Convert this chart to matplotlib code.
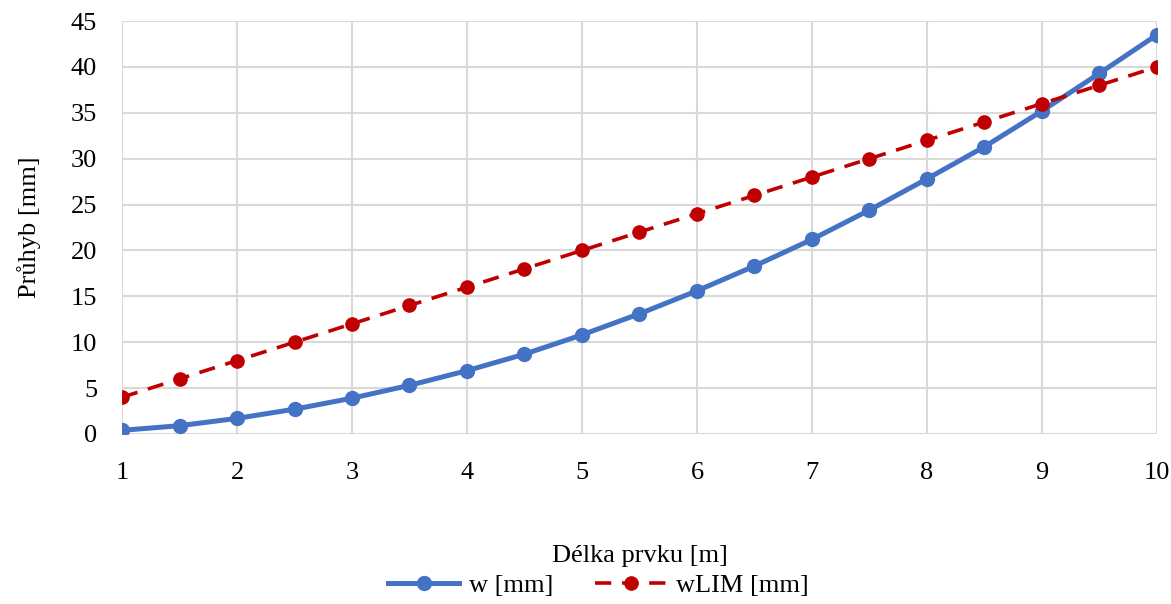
import matplotlib.pyplot as plt
from matplotlib.ticker import MultipleLocator

# delka prvku [m]
delka = [1, 1.5, 2, 2.5, 3, 3.5, 4, 4.5, 5, 5.5, 6, 6.5, 7, 7.5, 8, 8.5, 9, 9.5, 10]
# pruhyb w [mm]
w = [0.4, 0.9, 1.7, 2.7, 3.9, 5.3, 6.9, 8.7, 10.8, 13.1, 15.6, 18.3, 21.2, 24.4, 27.8, 31.3, 35.2, 39.3, 43.5]
# limitni pruhyb wLIM [mm]
w_lim = [4, 6, 8, 10, 12, 14, 16, 18, 20, 22, 24, 26, 28, 30, 32, 34, 36, 38, 40]

plt.rcParams['font.family'] = ['Liberation Serif', 'DejaVu Serif']

fig = plt.figure(figsize=(11.71, 6.04), dpi=100)
ax = fig.add_axes([0.1042, 0.2815, 0.8838, 0.6837])

ax.plot(delka, w, color='#4472C4', lw=3.6, marker='o', ms=10, label='w [mm]', zorder=3)
ax.plot(delka, w_lim, color='#C00000', lw=2.6, ls=(0, (4.5, 3)), marker='o', ms=9.5,
        label='wLIM [mm]', zorder=4)

ax.set_xlim(1, 10)
ax.set_ylim(0, 45)
ax.xaxis.set_major_locator(MultipleLocator(1))
ax.yaxis.set_major_locator(MultipleLocator(5))
ax.grid(True, color='#D9D9D9', lw=1.5)
ax.set_axisbelow(True)
for s in ax.spines.values():
    s.set_visible(False)
ax.tick_params(length=0, labelsize=19)
ax.tick_params(axis='x', pad=20)
ax.tick_params(axis='y', pad=18)

ax.set_xlabel('Délka prvku [m]', fontsize=19, labelpad=44)
ax.set_ylabel('Průhyb [mm]', fontsize=19, labelpad=21)

fig.legend(loc='center', bbox_to_anchor=(0.511, 0.031), ncol=2, frameon=False,
           fontsize=19, handlelength=2.7, columnspacing=1.6, handletextpad=0.35)

fig.savefig('out.png', dpi=100)
